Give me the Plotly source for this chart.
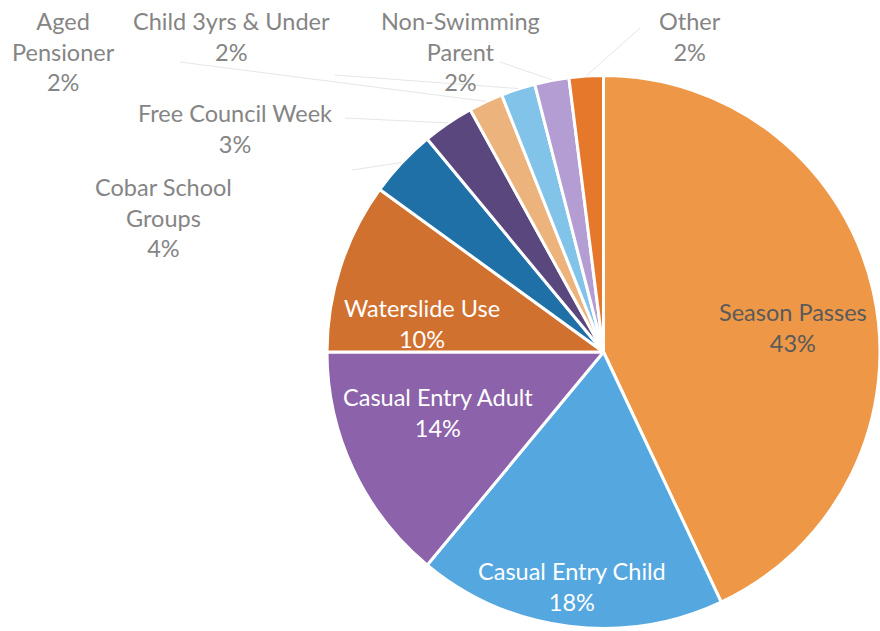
import numpy as np
import plotly.graph_objects as go

categories = ["Season Passes", "Casual Entry Child", "Casual Entry Adult", "Waterslide Use",
              "Cobar School Groups", "Free Council Week", "Aged Pensioner",
              "Child 3yrs & Under", "Non-Swimming Parent", "Other"]
values = [43, 18, 14, 10, 4, 3, 2, 2, 2, 2]
label_text = ["Season Passes", "Casual Entry Child", "Casual Entry Adult", "Waterslide Use",
              "Cobar School<br>Groups", "Free Council Week", "Aged<br>Pensioner",
              "Child 3yrs & Under", "Non-Swimming<br>Parent", "Other"]
colors = ["#EE9847", "#55A7DF", "#8C62AA", "#D0712F", "#1E70A6", "#59477E",
          "#ECB47C", "#82C3EA", "#B39DD2", "#E6782C"]

W, H = 880, 631
CX, CY, R = 604, 352, 277

# label anchor positions (pixels) and style
label_pos = [(793, 327), (572, 586), (438, 412), (422, 324), (163, 218), (235, 129),
             (63, 52), (232, 36), (460, 52), (690, 36)]
label_color = ["#5a5a5a", "white", "white", "white", "#858585", "#858585",
               "#858585", "#858585", "#858585", "#858585"]
outside = [False, False, False, False, True, True, True, True, True, True]
leader_end = [None, None, None, None, (352, 170), (345, 118), (180, 62), (335, 75), (500, 62), (640, 28)]

fig = go.Figure(go.Pie(
    labels=categories, values=values, sort=False, direction="clockwise", rotation=0,
    marker=dict(colors=colors, line=dict(color="white", width=3)),
    textinfo="none", hoverinfo="label+percent", showlegend=False,
    domain=dict(x=[(CX - R) / W, 1.0], y=[(H - CY - R) / H, (H - CY + R) / H]),
))

total = float(sum(values))
cum = np.cumsum([0] + values)
annotations = []
shapes = []
for i, cat in enumerate(categories):
    pct = round(100 * values[i] / total)
    x, y = label_pos[i]
    annotations.append(dict(
        x=x / W, y=1 - y / H, xref="paper", yref="paper", showarrow=False,
        text=f"{label_text[i]}<br>{pct}%", align="center",
        font=dict(family="Lato, Calibri, sans-serif", size=23.5, color=label_color[i]),
        xanchor="center", yanchor="middle"))
    if outside[i]:
        mid = (cum[i] + cum[i + 1]) / 2 / total * 2 * np.pi
        ex = CX + R * np.sin(mid)
        ey = CY - R * np.cos(mid)
        lx, ly = leader_end[i]
        shapes.append(dict(type="line", xref="paper", yref="paper",
                           x0=ex / W, y0=1 - ey / H, x1=lx / W, y1=1 - ly / H,
                           line=dict(color="#e6e6e6", width=1)))

fig.update_layout(
    width=W, height=H, margin=dict(l=0, r=0, t=0, b=0),
    paper_bgcolor="white", plot_bgcolor="white",
    annotations=annotations, shapes=shapes,
)
fig.write_html("out.html")
